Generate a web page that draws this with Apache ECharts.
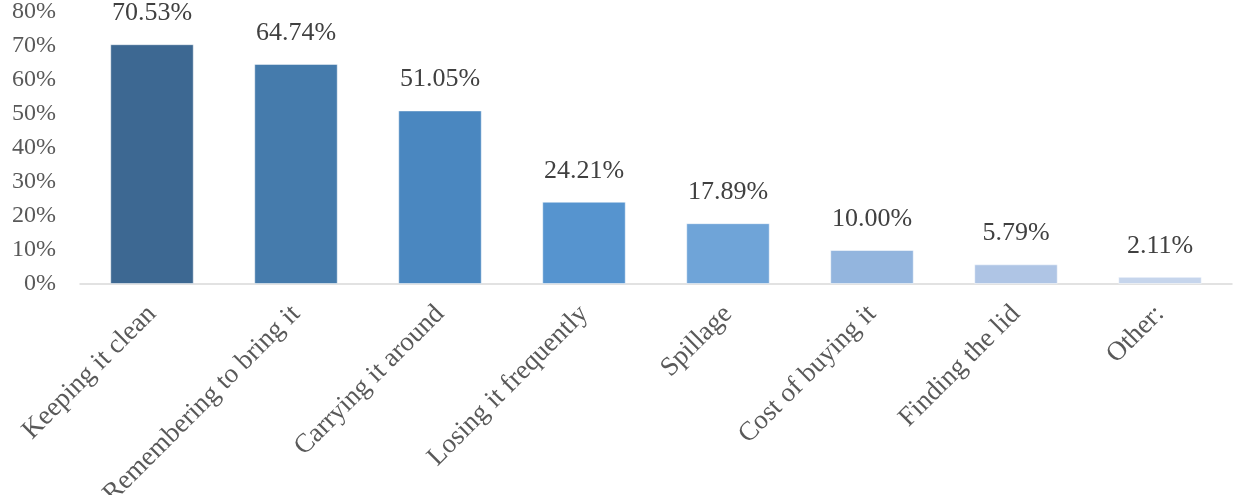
<!DOCTYPE html>
<html>
<head>
<meta charset="utf-8">
<script src="https://cdn.jsdelivr.net/npm/echarts@6/dist/echarts.min.js"></script>
<style>
  html, body { margin: 0; padding: 0; background: #fff; }
  #chart { width: 1246px; height: 495px; }
</style>
</head>
<body>
<div id="chart"></div>
<script>
// data
var categories = ['Keeping it clean', 'Remembering to bring it', 'Carrying it around',
  'Losing it frequently', 'Spillage', 'Cost of buying it', 'Finding the lid', 'Other:'];
var percents = [70.53, 64.74, 51.05, 24.21, 17.89, 10.00, 5.79, 2.11];
var barColors = ['#3d6892', '#457bac', '#4a87c0', '#5694cf', '#6fa4d8', '#93b5de', '#afc5e5', '#c6d5ec'];

var chart = echarts.init(document.getElementById('chart'));

var serif = '"Liberation Serif", "DejaVu Serif", serif';

var option = {
  animation: false,
  grid: { left: 80, right: 14, top: 12, bottom: 211, containLabel: false, outerBoundsMode: 'none' },
  xAxis: {
    type: 'category',
    data: categories,
    axisLine: { lineStyle: { color: '#d9d9d9', width: 1.5 } },
    axisTick: { show: false },
    axisLabel: {
      rotate: 45,
      interval: 0,
      margin: 26,
      color: '#595959',
      fontFamily: serif,
      fontSize: 27
    }
  },
  yAxis: {
    type: 'value',
    min: 0,
    max: 80,
    interval: 10,
    splitLine: { show: false },
    axisLine: { show: false },
    axisTick: { show: false },
    axisLabel: {
      formatter: '{value}%',
      margin: 24,
      color: '#595959',
      fontFamily: serif,
      fontSize: 24
    }
  },
  series: [{
    type: 'bar',
    barCategoryGap: '42%',
    data: percents.map(function (v, i) {
      return { value: v, itemStyle: { color: barColors[i], borderColor: 'rgba(255,255,255,0.5)', borderWidth: 1 } };
    }),
    label: {
      show: true,
      position: 'top',
      distance: 18,
      color: '#404040',
      fontFamily: serif,
      fontSize: 26,
      formatter: function (p) { return p.value.toFixed(2) + '%'; }
    }
  }]
};

chart.setOption(option);
</script>
</body>
</html>
